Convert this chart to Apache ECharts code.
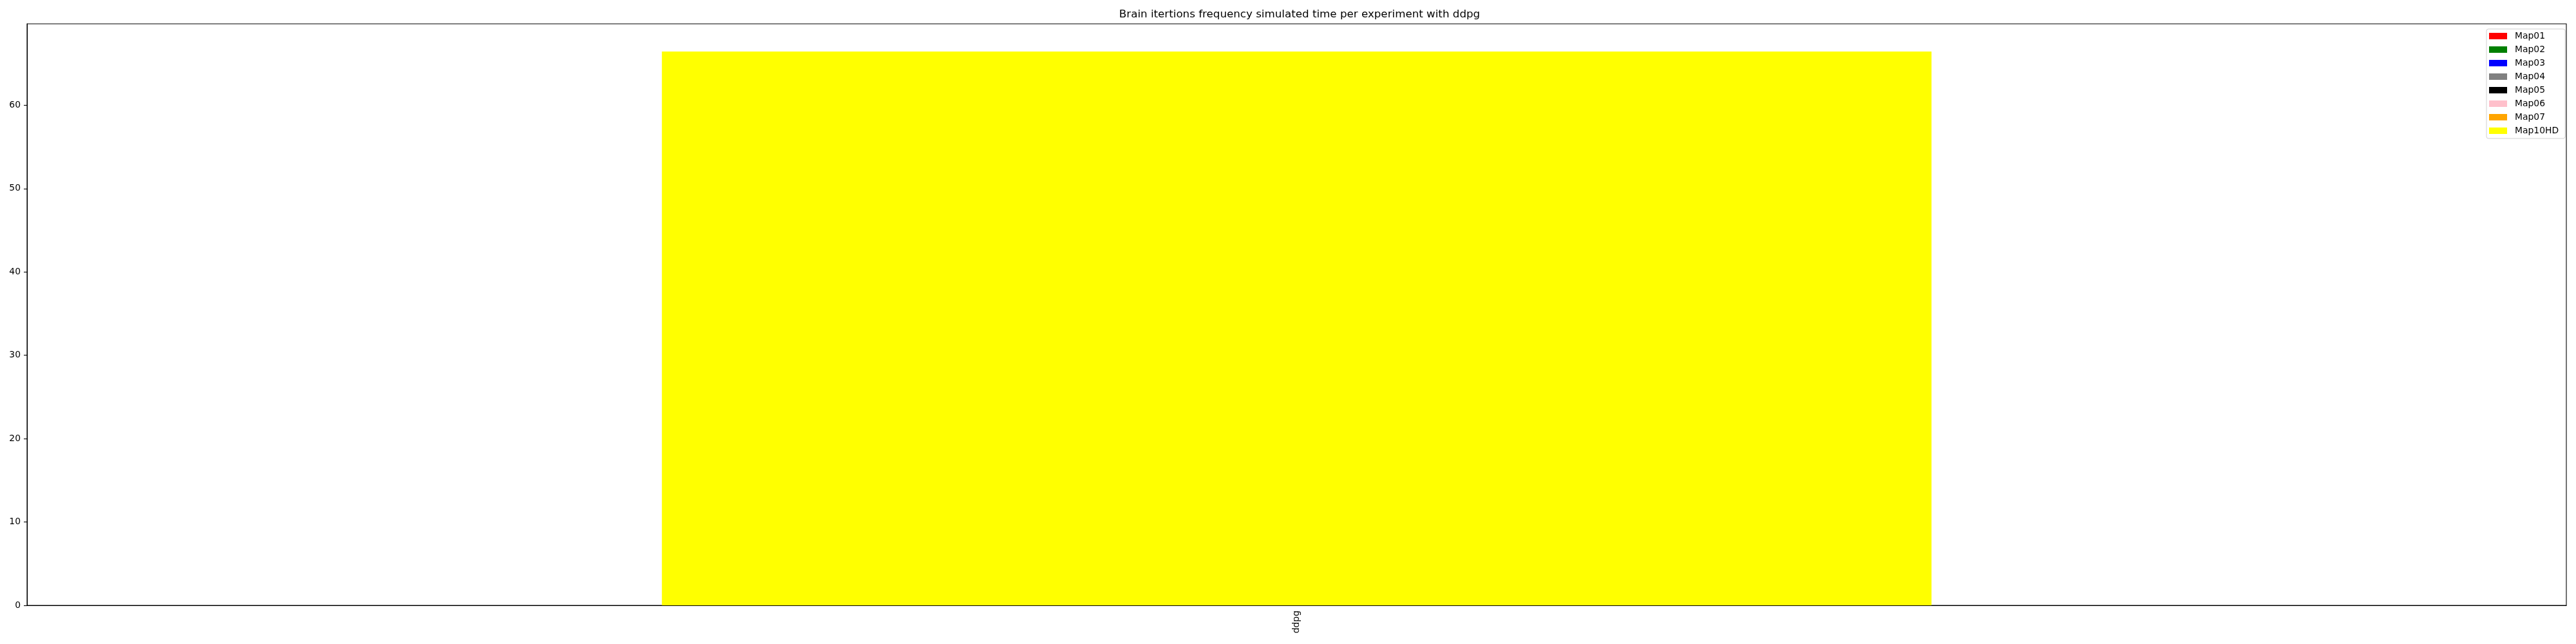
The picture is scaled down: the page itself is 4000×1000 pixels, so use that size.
<!DOCTYPE html>
<html>
<head>
<meta charset="utf-8">
<script src="https://cdn.jsdelivr.net/npm/echarts@6/dist/echarts.min.js"></script>
<style>html,body{margin:0;padding:0;background:#fff}#c{width:4000px;height:1000px}</style>
</head>
<body>
<div id="c"></div>
<script>
const categories = ['ddpg'];
const seriesNames = ['Map01','Map02','Map03','Map04','Map05','Map06','Map07','Map10HD'];
const seriesColors = ['#ff0000','#008000','#0000ff','#808080','#000000','#ffc0cb','#ffa500','#ffff00'];
const map01 = [0];
const map02 = [0];
const map03 = [0];
const map04 = [0];
const map05 = [0];
const map06 = [0];
const map07 = [0];
const map10hd = [66.45];
const seriesValues = [map01, map02, map03, map04, map05, map06, map07, map10hd];
const yTicks = [0,10,20,30,40,50,60];

const font = 'DejaVu Sans';
const chart = echarts.init(document.getElementById('c'), null, {renderer:'canvas'});
chart.setOption({
  animation: false,
  backgroundColor: '#fff',
  title: {
    text: 'Brain itertions frequency simulated time per experiment with ddpg',
    left: 2013, top: 9, textAlign: 'center',
    textStyle: {fontFamily: font, fontSize: 16.7, fontWeight: 'normal', color: '#000'}
  },
  legend: {
    orient: 'vertical', left: 3861, top: 45,
    padding: [4, 10, 5, 4],
    itemWidth: 28, itemHeight: 10, itemGap: 7,
    icon: 'rect',
    borderColor: '#d0d0d0', borderWidth: 1, borderRadius: 3,
    backgroundColor: '#fff',
    textStyle: {fontFamily: font, fontSize: 13.9, color: '#000', lineHeight: 14, padding: [0,0,0,7]},
    data: seriesNames
  },
  grid: {left: 42, right: 15, top: 37, bottom: 60, show: true, borderColor: '#000', borderWidth: 1.1, containLabel: false},
  xAxis: {
    type: 'category', data: categories,
    axisLine: {lineStyle: {color: '#000', width: 1.1}},
    axisTick: {alignWithLabel: true, length: 5, lineStyle: {color: '#000', width: 1.1}},
    axisLabel: {rotate: 90, fontFamily: font, fontSize: 13.9, color: '#000', margin: 8}
  },
  yAxis: {
    type: 'value', min: 0, max: 69.77, interval: 10,
    splitLine: {show: false},
    axisLine: {show: true, lineStyle: {color: '#000', width: 1.1}},
    axisTick: {show: true, length: 5, lineStyle: {color: '#000', width: 1.1}},
    axisLabel: {fontFamily: font, fontSize: 13.9, color: '#000', margin: 10, showMaxLabel: false,
      formatter: v => yTicks.includes(v) ? String(v) : ''}
  },
  series: seriesNames.map((n, i) => ({
    name: n, type: 'bar', data: seriesValues[i],
    barWidth: '50%', barGap: '-100%',
    itemStyle: {color: seriesColors[i]}
  }))
});
</script>
</body>
</html>
